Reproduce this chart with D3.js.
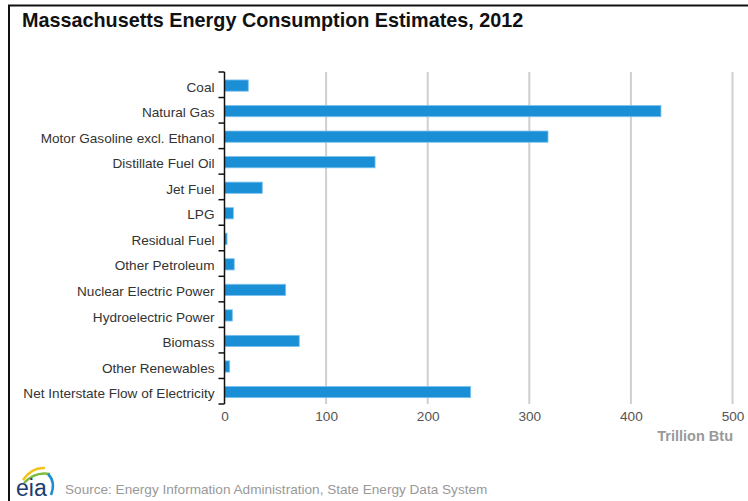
<!DOCTYPE html>
<html><head><meta charset="utf-8">
<script src="https://cdn.jsdelivr.net/npm/d3@7"></script>
<style>body{margin:0;background:#fff}svg{display:block}text{font-family:"Liberation Sans",Arial,sans-serif}</style>
</head><body><svg id="c" width="748" height="501"></svg>
<script>
const categories = ["Coal","Natural Gas","Motor Gasoline excl. Ethanol","Distillate Fuel Oil","Jet Fuel","LPG","Residual Fuel","Other Petroleum","Nuclear Electric Power","Hydroelectric Power","Biomass","Other Renewables","Net Interstate Flow of Electricity"];
const values = [23.4, 429.6, 318.4, 148.2, 37.2, 8.7, 2.5, 9.6, 60.2, 7.7, 73.6, 5.1, 242.3];
const xTicks = [0,100,200,300,400,500];
const title = "Massachusetts Energy Consumption Estimates, 2012";
const unitLabel = "Trillion Btu";
const source = "Source: Energy Information Administration, State Energy Data System";

(function(){
const svg = d3.select("#c");
const L = 224.5, R = 732.5, T = 72, B = 404;
const x = d3.scaleLinear().domain([0,500]).range([L,R]);
const y = d3.scaleBand().domain(categories).range([T+0.8,B+0.8]).paddingInner(0.56).paddingOuter(0.28);

// frame
svg.append("line").attr("x1",9).attr("x2",9).attr("y1",5).attr("y2",501).attr("stroke","#111").attr("stroke-width",2);
svg.append("line").attr("x1",8).attr("x2",748).attr("y1",5.5).attr("y2",5.5).attr("stroke","#111").attr("stroke-width",2);

svg.append("text").attr("x",22).attr("y",27).attr("font-size",19.8).attr("font-weight","bold").attr("fill","#111").text(title);

// gridlines
svg.append("g").selectAll("line").data(xTicks.filter(d=>d>0)).join("line")
  .attr("x1",d=>x(d)).attr("x2",d=>x(d)).attr("y1",T).attr("y2",B)
  .attr("stroke","#cfcfcf").attr("stroke-width",2);

// x axis labels
const xa = svg.append("g").attr("transform",`translate(0,${B})`)
  .call(d3.axisBottom(x).tickValues(xTicks).tickSize(0).tickPadding(7));
xa.select(".domain").remove();
xa.selectAll("text").attr("font-size",13.6).attr("fill","#555").attr("font-family","Liberation Sans, Arial, sans-serif");

svg.append("text").attr("x",733).attr("y",441).attr("text-anchor","end").attr("font-size",14.5).attr("font-weight","bold").attr("fill","#999").text(unitLabel);

// bars
svg.append("g").selectAll("rect").data(categories).join("rect")
  .attr("x",x(0)).attr("y",d=>y(d)).attr("height",y.bandwidth())
  .attr("width",(d,i)=>x(values[i])-x(0))
  .attr("fill","#1b8fd6").attr("stroke","#7cc3ee").attr("stroke-width",0.8);

// y axis
const ya = svg.append("g").attr("transform",`translate(${L},1.8)`)
  .call(d3.axisLeft(y).tickSize(0).tickPadding(10));
ya.select(".domain").remove();
ya.selectAll("text").attr("font-size",13.6).attr("fill","#333").attr("font-family","Liberation Sans, Arial, sans-serif");
svg.append("line").attr("x1",L).attr("x2",L).attr("y1",T).attr("y2",B).attr("stroke","#111").attr("stroke-width",1.5);
const step = (B-T)/categories.length;
svg.append("g").selectAll("line").data(d3.range(categories.length+1)).join("line")
  .attr("x1",L-6).attr("x2",L).attr("y1",i=>T+i*step).attr("y2",i=>T+i*step)
  .attr("stroke","#111").attr("stroke-width",1.5);

// eia logo
const lg = svg.append("g");
lg.append("path").attr("d","M23,480 Q32,467 45,468").attr("fill","none").attr("stroke","#f2c318").attr("stroke-width",2.5);
lg.append("path").attr("d","M24,483 Q35,471 50,474").attr("fill","none").attr("stroke","#7dbb3c").attr("stroke-width",2.5);
lg.append("path").attr("d","M48,474 Q56,482 51,495").attr("fill","none").attr("stroke","#1b8fd6").attr("stroke-width",2.5);
lg.append("text").attr("x",16).attr("y",496).attr("font-family","Liberation Serif, serif").attr("font-size",23).attr("fill","#1a3c6e").text("eia");
svg.append("text").attr("x",65).attr("y",494).attr("font-size",13.6).attr("fill","#999").text(source);
})();
</script></body></html>
